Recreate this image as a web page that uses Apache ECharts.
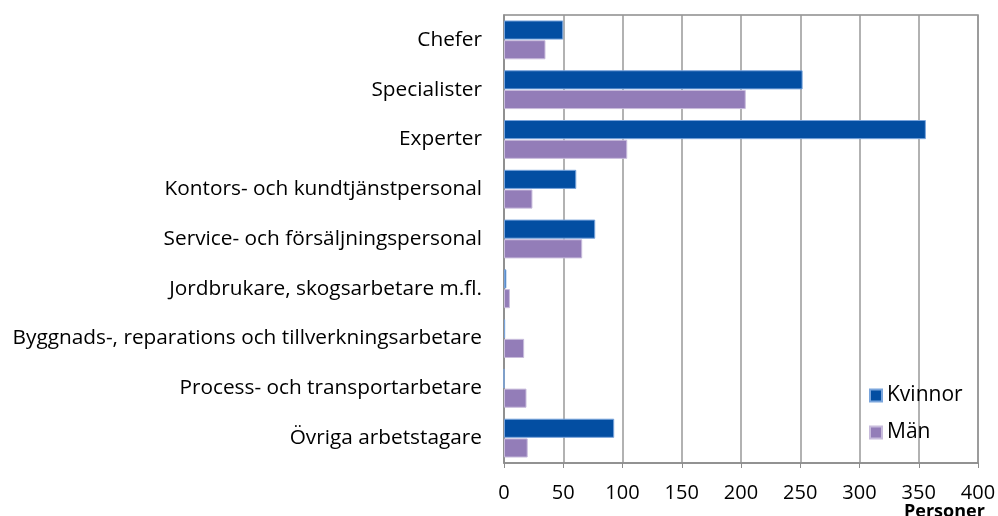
<!doctype html>
<html lang="sv">
<head>
<meta charset="UTF-8">
<title>Yrkesgrupp</title>
<script src="https://cdn.jsdelivr.net/npm/echarts@6/dist/echarts.min.js"></script>
<style>
  html, body { margin: 0; padding: 0; background: #fff; }
  #chart { width: 998px; height: 516px; }
</style>
</head>
<body>
<div id="chart"></div>
<script>
var categories = ['Chefer', 'Specialister', 'Experter', 'Kontors- och kundtjänstpersonal',
  'Service- och försäljningspersonal', 'Jordbrukare, skogsarbetare m.fl.',
  'Byggnads-, reparations och tillverkningsarbetare', 'Process- och transportarbetare',
  'Övriga arbetstagare'];
var kvinnor = [50, 252, 356, 61, 77, 2, 1, 0, 93];
var man = [35, 204, 104, 24, 66, 5, 17, 19, 20];
var xTicks = [0, 50, 100, 150, 200, 250, 300, 350, 400];

var font = 'Open Sans';
var chart = echarts.init(document.getElementById('chart'));
chart.setOption({
  animation: false,
  textStyle: { fontFamily: font },
  grid: { left: 504, right: 20, top: 15, bottom: 53, outerBoundsMode: 'none', containLabel: false,
    show: true, borderColor: '#8c8c8c', borderWidth: 1.5 },
  legend: {
    orient: 'vertical', left: 864, top: 380, itemGap: 16, itemWidth: 12, itemHeight: 12,
    icon: 'rect', textStyle: { fontSize: 21, color: '#000', fontFamily: font },
    data: ['Kvinnor', 'Män']
  },
  xAxis: {
    type: 'value', min: 0, max: 400, interval: 50,
    name: 'Personer', nameLocation: 'end', nameGap: 0,
    nameTextStyle: { fontWeight: 'bold', fontSize: 18, color: '#000', padding: [40, 0, 0, -74], verticalAlign: 'top' },
    axisLine: { show: true, lineStyle: { color: '#8c8c8c', width: 1.5 } },
    axisTick: { show: true, length: 5, lineStyle: { color: '#8c8c8c' } },
    axisLabel: { fontSize: 20, color: '#000', margin: 20, formatter: function (v) { return xTicks.indexOf(v) >= 0 ? String(v) : ''; } },
    splitLine: { show: true, lineStyle: { color: '#999', width: 1.5 } }
  },
  yAxis: {
    type: 'category', inverse: true, data: categories,
    axisLine: { show: true, lineStyle: { color: '#8c8c8c', width: 1.5 } },
    axisTick: { show: false },
    axisLabel: { fontSize: 20.8, color: '#000', margin: 22 }
  },
  series: [
    { name: 'Kvinnor', type: 'bar', data: kvinnor, barGap: '3%', barCategoryGap: '22%',
      itemStyle: { color: '#034ea2', borderColor: '#7aa5dc', borderWidth: 1 } },
    { name: 'Män', type: 'bar', data: man,
      itemStyle: { color: '#937db8', borderColor: '#c8bcdc', borderWidth: 1 } }
  ]
});
</script>
</body>
</html>
